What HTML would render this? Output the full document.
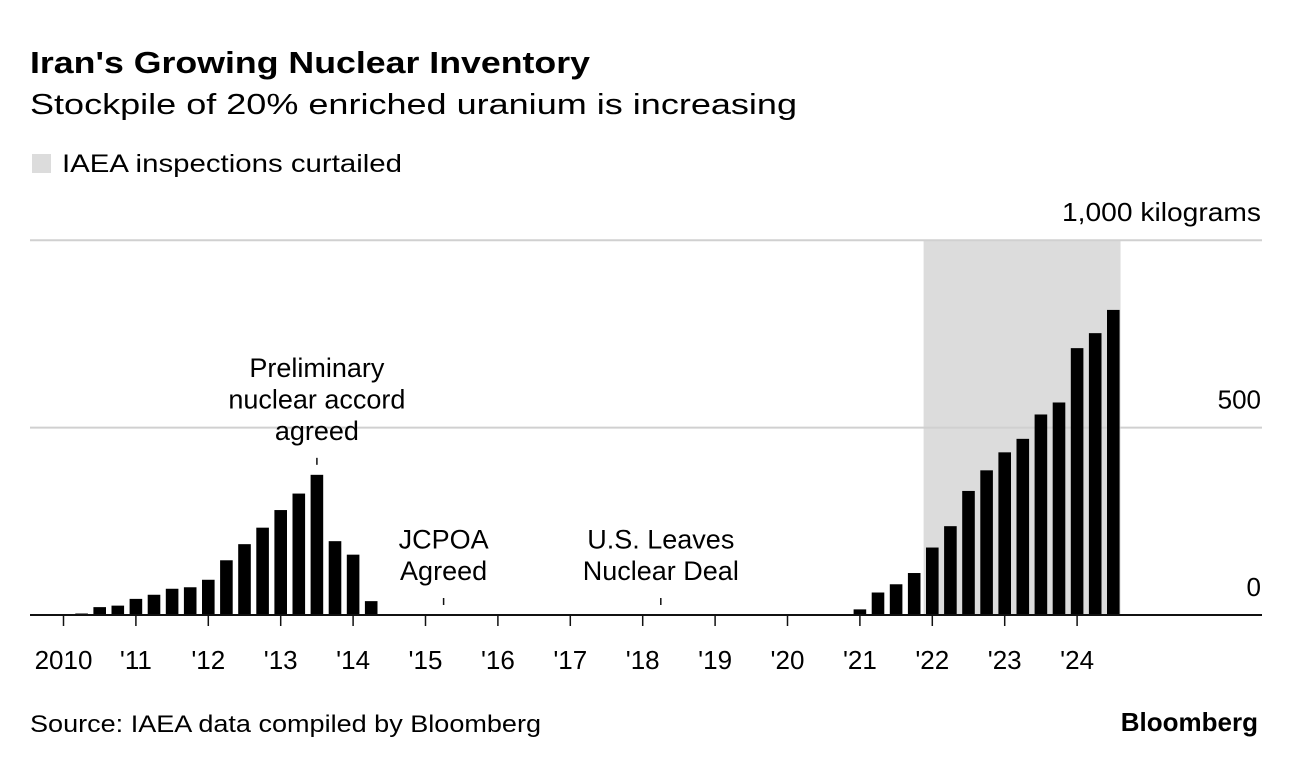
<!DOCTYPE html>
<html><head><meta charset="utf-8"><style>
body{margin:0;background:#fff;}
svg{display:block;font-family:"Liberation Sans",Arial,sans-serif;}
</style></head><body>
<svg id="chart" width="1296" height="766" viewBox="0 0 1296 766">
<text x="30" y="73" font-size="31" font-weight="bold" fill="#000" textLength="560" lengthAdjust="spacingAndGlyphs">Iran's Growing Nuclear Inventory</text>
<text x="30" y="114" font-size="29" fill="#000" textLength="767" lengthAdjust="spacingAndGlyphs">Stockpile of 20% enriched uranium is increasing</text>
<rect x="32" y="154" width="19" height="19" fill="#dcdcdc"/>
<text x="62" y="172" font-size="25" fill="#000" textLength="340" lengthAdjust="spacingAndGlyphs">IAEA inspections curtailed</text>
<g id="plot"></g>
<text x="30" y="732" font-size="24" fill="#000" textLength="511" lengthAdjust="spacingAndGlyphs">Source: IAEA data compiled by Bloomberg</text>
<text x="1258" y="731" font-size="26" font-weight="bold" text-anchor="end" fill="#000">Bloomberg</text>
</svg>
<script>
const quarters = [];
for (let y = 2010; y <= 2024; y++) for (let q = 0; q < 4; q++) if (quarters.length < 59) quarters.push(y + q / 4);
const values = [0,4,21,25,43,54,70,74,94,146,189,233,280,324,374,197,161,37,
0,0,0,0,0,0,0,0,0,0,0,0,0,0,0,0,0,0,0,0,0,0,0,0,0,0,
15,60,82,112,180,237,331,386,434,470,535,567,712,752,814];
const yearTicks = [2010,2011,2012,2013,2014,2015,2016,2017,2018,2019,2020,2021,2022,2023,2024];
const yearLabels = ["2010","'11","'12","'13","'14","'15","'16","'17","'18","'19","'20","'21","'22","'23","'24"];
const yTicks = [0,500,1000];
const yLabels = ["0","500","1,000 kilograms"];
const shadeRange = [2021.88, 2024.6];
const annotations = [
  {t:2013.5, v:374, lines:["Preliminary","nuclear accord","agreed"], name:"annotation-preliminary-accord"},
  {t:2015.25, v:0, lines:["JCPOA","Agreed"], name:"annotation-jcpoa"},
  {t:2018.25, v:0, lines:["U.S. Leaves","Nuclear Deal"], name:"annotation-us-leaves"}
];
const NS = "http://www.w3.org/2000/svg";
const g = document.getElementById('plot');
const X = t => 63.5 + (t - 2010) * 72.4;
const Y = v => 615 - v * 0.3748;
function el(tag, attrs, parent) {
  const e = document.createElementNS(NS, tag);
  for (const k in attrs) e.setAttribute(k, attrs[k]);
  (parent || g).appendChild(e);
  return e;
}
let sh = el('rect', {x: X(shadeRange[0]), y: Y(1000), width: X(shadeRange[1]) - X(shadeRange[0]), height: Y(0) - Y(1000), fill: '#dcdcdc'});


yTicks.forEach((v, i) => {
  if (v > 0) {
    const l = el('line', {x1: 30, x2: 1262, y1: Y(v), y2: Y(v), stroke: '#d0d0d0', 'stroke-width': 2});
    
    
  }
  const attrs = {x: 1261, y: Y(v) - 19, 'font-size': 26, 'text-anchor': 'end', fill: '#000'};
  if (v === 1000) { attrs.textLength = 199; attrs.lengthAdjust = 'spacingAndGlyphs'; }
  const t = el('text', attrs);
  t.textContent = yLabels[i];
  
  
});
quarters.forEach((t, i) => {
  if (values[i] <= 0) return;
  const b = el('rect', {x: X(t) - 6.3, y: Y(values[i]), width: 12.6, height: Y(0) - Y(values[i]), fill: '#000'});
  
  
});
const bl = el('line', {x1: 30, x2: 1262, y1: 615, y2: 615, stroke: '#111', 'stroke-width': 2});


yearTicks.forEach((t, i) => {
  const tk = el('line', {x1: X(t), x2: X(t), y1: 615, y2: 626, stroke: '#111', 'stroke-width': 1.5});
  
  
  const lb = el('text', {x: X(t), y: 669, 'font-size': 26, 'text-anchor': 'middle', fill: '#000'});
  lb.textContent = yearLabels[i];
  
  
});
annotations.forEach(a => {
  const x = X(a.t);
  const y0 = Y(a.v) - 10;
  const tk = el('line', {x1: x, x2: x, y1: y0 - 7, y2: y0, stroke: '#111', 'stroke-width': 1.5});
  
  
  const n = a.lines.length;
  a.lines.forEach((s, j) => {
    const t = el('text', {x: x, y: y0 - 25 - (n - 1 - j) * 31.5, 'font-size': 27, 'text-anchor': 'middle', fill: '#000'});
    t.textContent = s;
    
    
  });
});
</script>
</body></html>
